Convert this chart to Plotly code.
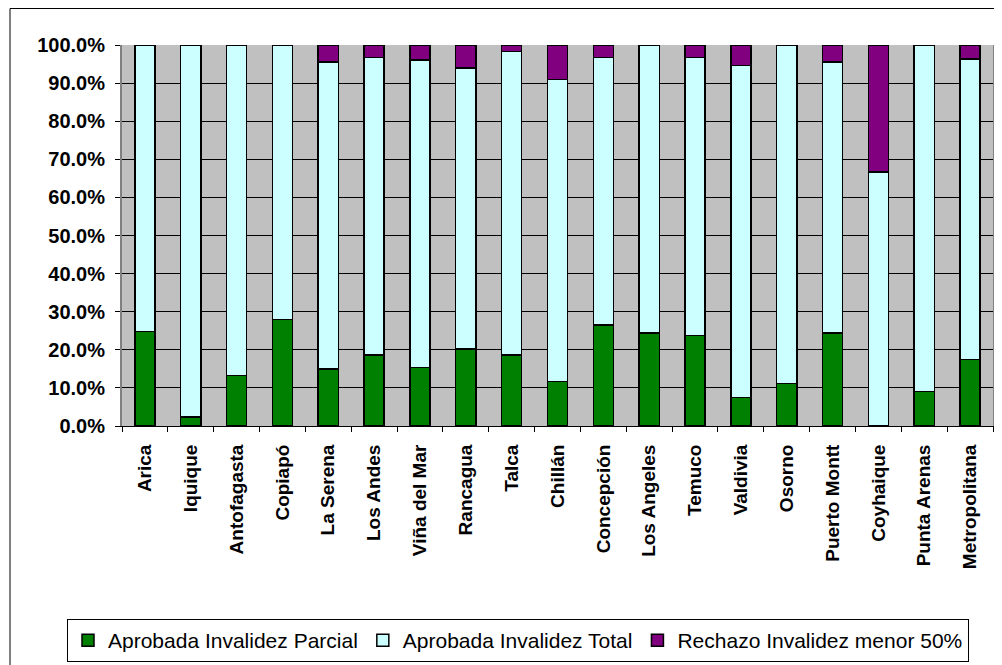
import plotly.graph_objects as go

categories = ["Arica", "Iquique", "Antofagasta", "Copiapó", "La Serena", "Los Andes",
              "Viña del Mar", "Rancagua", "Talca", "Chillán", "Concepción", "Los Angeles",
              "Temuco", "Valdivia", "Osorno", "Puerto Montt", "Coyhaique", "Punta Arenas",
              "Metropolitana"]
parcial = [24.8, 2.3, 13.3, 28.0, 14.9, 18.6, 15.4, 20.2, 18.6, 11.7, 26.5, 24.4,
           23.8, 7.5, 11.2, 24.4, 0.0, 9.1, 17.5]
total = [75.2, 97.7, 86.7, 72.0, 80.7, 78.1, 80.7, 73.8, 79.7, 79.2, 70.2, 75.6,
         72.9, 87.1, 88.8, 71.2, 66.7, 90.9, 78.8]
rechazo = [0.0, 0.0, 0.0, 0.0, 4.4, 3.3, 3.9, 6.0, 1.7, 9.1, 3.3, 0.0,
           3.3, 5.4, 0.0, 4.4, 33.3, 0.0, 3.7]
series_names = ["Aprobada Invalidez Parcial", "Aprobada Invalidez Total",
                "Rechazo Invalidez menor 50%"]
colors = ["#008000", "#CCFFFF", "#800080"]

FONT = "Arial, Liberation Sans, sans-serif"

fig = go.Figure()
for name, vals, col in zip(series_names, [parcial, total, rechazo], colors):
    fig.add_trace(go.Bar(x=categories, y=[v if v > 0 else None for v in vals], name=name,
                         marker=dict(color=col, line=dict(color="black", width=1.5))))

# page body has an 8px margin; work in screen pixels and convert
OFF = 8
W, H = 1002 - OFF, 665 - OFF
plot_l, plot_r, plot_t, plot_b = 122, 993, 45, 426
L = plot_l - OFF
T = plot_t - OFF
R = W - (plot_r - OFF)
B = H - (plot_b - OFF)
pw, ph = W - L - R, H - T - B

def px(x):
    return (x - OFF - L) / pw

def py(y):
    return (H - B - (y - OFF)) / ph

fig.update_layout(
    width=W, height=H,
    margin=dict(l=L, r=R, t=T, b=B, autoexpand=False),
    barmode="stack", bargap=0.56,
    plot_bgcolor="#C0C0C0", paper_bgcolor="white",
    font=dict(family=FONT, color="black"),
    showlegend=True,
    legend=dict(orientation="h", x=px(67), y=py(619), xanchor="left", yanchor="top",
                bordercolor="black", borderwidth=1, bgcolor="white",
                font=dict(size=21, family=FONT),
                traceorder="normal", itemwidth=30),
    shapes=[dict(type="rect", xref="paper", yref="paper",
                 x0=px(10), x1=px(1000), y0=py(700), y1=py(8.5),
                 line=dict(color="black", width=1), layer="below")],
)
fig.update_yaxes(range=[0, 100], dtick=10, tickformat=".1f", ticksuffix="%",
                 automargin=False,
                 showgrid=True, gridcolor="black", gridwidth=1, zeroline=False,
                 showline=True, linecolor="#808080", linewidth=2, mirror=True,
                 ticks="outside", ticklen=5, tickcolor="black", ticklabelstandoff=6,
                 tickfont=dict(size=20, family=FONT, weight="bold"))
fig.update_xaxes(tickangle=-90, tickson="boundaries", ticks="outside", ticklen=5,
                 automargin=False,
                 tickcolor="black", showline=True, linecolor="black", linewidth=1,
                 mirror=False, showgrid=False, ticklabelstandoff=10,
                 tickfont=dict(size=19, family=FONT, weight="bold"))

fig.write_html("out.html")
